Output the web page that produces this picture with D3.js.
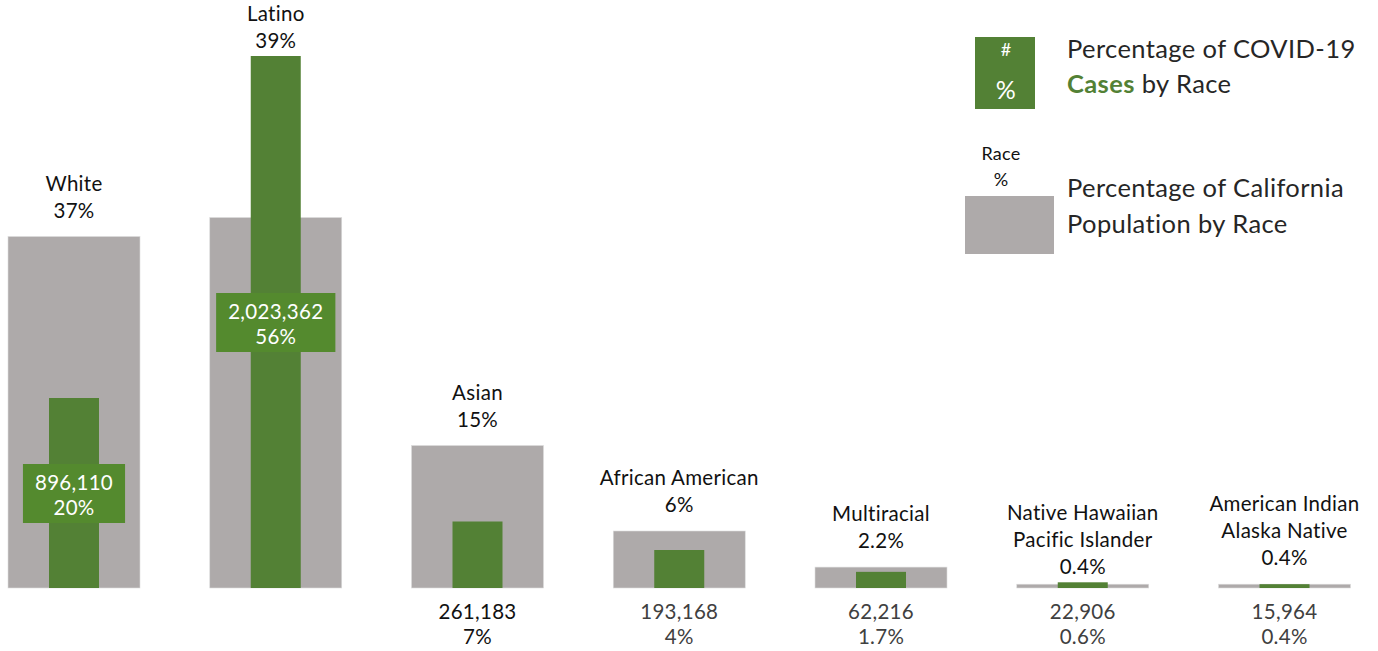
<!DOCTYPE html>
<html lang="en">
<head>
    <title>COVID-19 cases by race</title>
    <script src="https://d3js.org/d3.v7.min.js"></script>
    <style>
        body { margin: 0; background: #fff; }
        text { font-family: Lato, "Open Sans", sans-serif; }
        .pop { fill: #aeaaaa; stroke: #dcdcdc; stroke-width: 0.6; }
        .case { fill: #538135; }
        .lbl { font-size: 20.5px; fill: #111; text-anchor: middle; letter-spacing: 0.3px; }
        .legend { font-size: 25.5px; fill: #262626; letter-spacing: 0.4px; }
    </style>
</head>
<body>

<script>
    const races = ["White", "Latino", "Asian", "African American", "Multiracial",
        "Native Hawaiian\nPacific Islander", "American Indian\nAlaska Native"];
    const popPct = [37, 39, 15, 6, 2.2, 0.4, 0.4];
    const casePct = [20, 56, 7, 4, 1.7, 0.6, 0.4];
    const caseCount = [896110, 2023362, 261183, 193168, 62216, 22906, 15964];
    const popLabels = ["37%", "39%", "15%", "6%", "2.2%", "0.4%", "0.4%"];
    const caseLabels = ["20%", "56%", "7%", "4%", "1.7%", "0.6%", "0.4%"];

    const data = races.map((r, i) => ({
        race: r, pop: popPct[i], cases: casePct[i], count: caseCount[i],
        popLabel: popLabels[i], caseLabel: caseLabels[i]
    }));

    const W = 1378, H = 651;
    const svg = d3.select("body").append("svg").attr("width", W).attr("height", H);

    const x = d3.scalePoint().domain(races).range([74, 1284.5]);
    const y = d3.scaleLinear().domain([0, 60]).range([588, 18]);
    const fmt = d3.format(",");
    const greyW = 132, greenW = 50;

    const g = svg.selectAll("g.race").data(data).enter()
        .append("g").attr("class", "race")
        .attr("transform", d => `translate(${x(d.race)},0)`);

    g.append("rect").attr("class", "pop")
        .attr("x", -greyW / 2).attr("width", greyW)
        .attr("y", d => y(d.pop)).attr("height", d => y(0) - y(d.pop));

    g.append("rect").attr("class", "case")
        .attr("x", -greenW / 2).attr("width", greenW)
        .attr("y", d => y(d.cases)).attr("height", d => y(0) - y(d.cases));

    // category name + population share above the bars
    g.each(function(d) {
        const lines = d.race.split("\n").concat([d.popLabel]);
        const top = Math.min(y(d.pop), y(d.cases));
        const gap = d.cases > d.pop ? 8 : 19;
        const t = d3.select(this).append("text").attr("class", "lbl");
        lines.forEach((l, k) => {
            t.append("tspan").attr("x", 0)
                .attr("y", top - gap - (lines.length - 1 - k) * 27)
                .text(l);
        });
    });

    // case count + share: inside a box for tall bars, below baseline otherwise
    g.each(function(d, i) {
        const sel = d3.select(this);
        if (d.cases >= 20) {
            const mid = (y(d.cases) + y(0)) / 2;
            const box = sel.append("rect").attr("fill", "#548a2e");
            const t = sel.append("text").attr("class", "lbl").style("fill", "#fff");
            t.append("tspan").attr("x", 0).attr("y", mid - 3).text(fmt(d.count));
            t.append("tspan").attr("x", 0).attr("y", mid + 22).text(d.caseLabel);
            const w = t.node().getBBox().width + 24;
            box.attr("x", -w / 2).attr("width", w).attr("y", mid - 29).attr("height", 59);
        } else {
            const t = sel.append("text").attr("class", "lbl")
                .style("fill", i === 2 ? "#111" : "#404040");
            t.append("tspan").attr("x", 0).attr("y", 619).text(fmt(d.count));
            t.append("tspan").attr("x", 0).attr("y", 644).text(d.caseLabel);
        }
    });

    // legend
    const lg = svg.append("g");
    lg.append("rect").attr("x", 975).attr("y", 37).attr("width", 60).attr("height", 72).attr("fill", "#538135");
    lg.append("text").attr("class", "lbl").attr("x", 1006).attr("y", 56).style("fill", "#fff").style("font-size", "18px").text("#");
    lg.append("text").attr("class", "lbl").attr("x", 1006).attr("y", 99).style("fill", "#fff").style("font-size", "25px").text("%");
    lg.append("text").attr("class", "legend").attr("x", 1067).attr("y", 58).text("Percentage of COVID-19");
    const l2 = lg.append("text").attr("class", "legend").attr("x", 1067).attr("y", 93);
    l2.append("tspan").style("fill", "#538135").style("font-weight", "bold").text("Cases");
    l2.append("tspan").text(" by Race");

    lg.append("rect").attr("x", 965).attr("y", 196).attr("width", 89).attr("height", 58).attr("fill", "#aeaaaa");
    lg.append("text").attr("class", "lbl").attr("x", 1001).attr("y", 160).style("font-size", "18px").text("Race");
    lg.append("text").attr("class", "lbl").attr("x", 1001).attr("y", 186).style("font-size", "18px").text("%");
    lg.append("text").attr("class", "legend").attr("x", 1067).attr("y", 197).text("Percentage of California");
    lg.append("text").attr("class", "legend").attr("x", 1067).attr("y", 233).text("Population by Race");
</script>

</body>
</html>
